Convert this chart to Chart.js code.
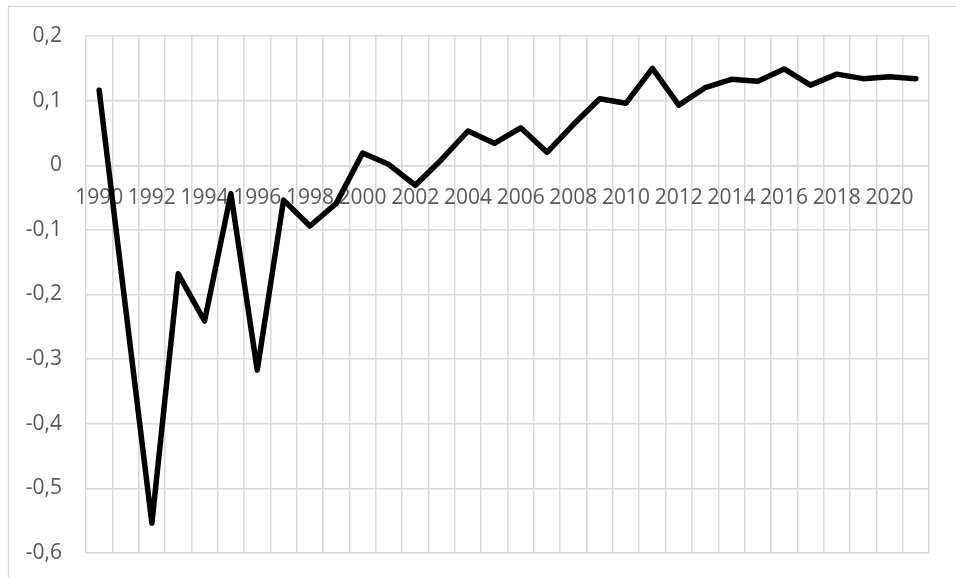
<!DOCTYPE html>
<html>
<head>
<meta charset="utf-8">
<script src="https://cdn.jsdelivr.net/npm/chart.js@4/dist/chart.umd.min.js"></script>
<style>
  html, body { margin: 0; padding: 0; background: #fff; overflow: hidden; }
  #wrap { position: relative; width: 956px; height: 578px; }
</style>
</head>
<body>
<div id="wrap"><canvas id="myChart" width="956" height="578"></canvas></div>
<script>
	// yearly series, 1990 - 2021
	var years = [];
	for (var yr = 1990; yr <= 2021; yr++) years.push(String(yr));

	var values = [
		0.116, -0.220, -0.554, -0.168, -0.241, -0.044, -0.317, -0.054,
		-0.094, -0.059, 0.019, 0.001, -0.031, 0.009, 0.053, 0.034,
		0.058, 0.020, 0.063, 0.103, 0.096, 0.150, 0.093, 0.120,
		0.133, 0.130, 0.149, 0.124, 0.141, 0.134, 0.137, 0.134
	];

	var yMin = -0.6, yMax = 0.2, yStep = 0.1;

	var gridColor = '#d9d9d9';
	var textColor = '#595959';

	// white background + outer chart frame
	var framePlugin = {
		id: 'frame',
		beforeDraw: function(chart) {
			var c = chart.ctx;
			c.save();
			c.fillStyle = '#fff';
			c.fillRect(0, 0, chart.width, chart.height);
			c.strokeStyle = gridColor;
			c.lineWidth = 1.3;
			c.strokeRect(8.5, 6.5, chart.width + 20, chart.height + 20);
			c.restore();
		}
	};

	var ctx = document.getElementById("myChart");
	var myChart = new Chart(ctx, {
		type: 'line',
		data: {
			labels: years,
			datasets: [{
				label: '',
				data: values,
				borderColor: '#000',
				borderWidth: 5.5,
				borderJoinStyle: 'round',
				borderCapStyle: 'round',
				pointRadius: 0,
				tension: 0,
				fill: false
			}]
		},
		options: {
			responsive: false,
			animation: false,
			layout: { padding: { left: 8, top: 36, right: 27, bottom: 25 } },
			plugins: {
				legend: { display: false },
				tooltip: { enabled: false }
			},
			scales: {
				x: {
					type: 'category',
					position: { y: 0 },
					offset: true,
					grid: {
						offset: true,
						color: gridColor,
						lineWidth: 1.5,
						drawTicks: false
					},
					border: { display: true, color: gridColor, width: 1.5 },
					ticks: {
						autoSkip: false,
						maxRotation: 0,
						minRotation: 0,
						padding: 20,
						color: textColor,
						font: { family: 'Open Sans', size: 21 },
						callback: function(val, i) {
							return i % 2 === 0 ? years[i] : '';
						}
					}
				},
				y: {
					min: yMin,
					max: yMax,
					// fixed axis width, and no extra top/bottom room for the labels
					afterFit: function(s) {
						s.width = 78;
						s.paddingTop = 0;
						s.paddingBottom = 0;
					},
					grid: {
						color: gridColor,
						lineWidth: 1.5,
						drawTicks: false
					},
					border: { display: false },
					ticks: {
						stepSize: yStep,
						padding: 24,
						color: textColor,
						font: { family: 'Open Sans', size: 21 },
						callback: function(v) {
							var r = Math.round(v * 10) / 10;
							if (r === 0) return '0';
							return r.toFixed(1).replace('.', ',');
						}
					}
				}
			}
		},
		plugins: [framePlugin]
	});
</script>
</body>
</html>
